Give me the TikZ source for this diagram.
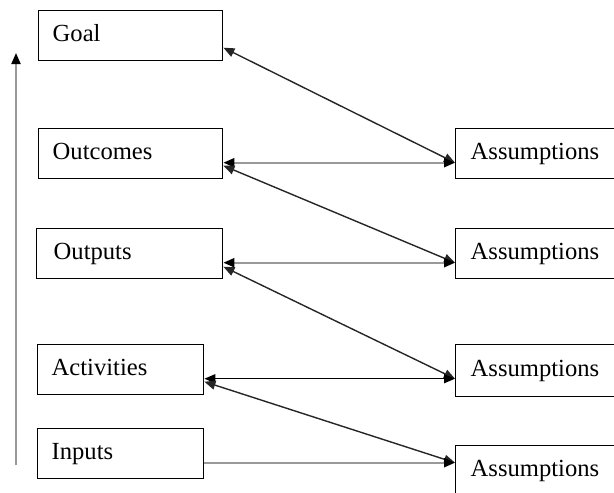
\documentclass[tikz,border=0pt]{standalone}
\usepackage{fontspec}
\setmainfont{Liberation Serif}
\usetikzlibrary{arrows.meta}
\begin{document}
\begin{tikzpicture}[x=1pt,y=-1pt,
  box/.style={draw=black,line width=1.4pt,anchor=north west,minimum height=50pt,
    inner xsep=14pt,inner ysep=0pt,text height=17pt,text depth=5pt,align=left,
    font=\fontsize{24.6}{26}\selectfont},
  dk/.style={line width=1.4pt,draw=black!85,{Triangle[length=11pt,width=9pt]}-{Triangle[length=11pt,width=9pt]}},
  lt/.style={line width=2pt,draw=black!40,{Triangle[length=11pt,width=9pt,fill=black,color=black]}-{Triangle[length=11pt,width=9pt,fill=black,color=black]}},
  ltone/.style={line width=2pt,draw=black!40,-{Triangle[length=11pt,width=9pt,fill=black,color=black]}}]
\useasboundingbox (0,0) rectangle (614,493);
\clip (0,0) rectangle (614,493);
\node[box,text width=156pt] (goal) at (38,10) {Goal};
\node[box,text width=156pt] (outc) at (38,128) {Outcomes};
\node[box,text width=152pt,inner xsep=17pt] (outp) at (36,228) {Outputs};
\node[box,text width=138pt] (act) at (37,344) {Activities};
\node[box,text width=138pt] (inp) at (37,428) {Inputs};
\node[box,text width=160pt,inner xsep=15pt] (a1) at (455,128) {Assumptions};
\node[box,text width=160pt,inner xsep=15pt] (a2) at (455,228) {Assumptions};
\node[box,text width=160pt,inner xsep=15pt,minimum height=52pt] (a3) at (455,344) {Assumptions};
\node[box,text width=160pt,inner xsep=15pt] (a4) at (455,445) {Assumptions};
\coordinate (vb) at (16,465);
\coordinate (vt) at (16,53);
\draw[ltone] (vb) -- (vt);
\draw[dk] ([yshift=-12pt]goal.east) -- ([yshift=-9pt]a1.west);
\draw[lt] ([yshift=-9pt]outc.east) -- ([yshift=-9pt]a1.west);
\draw[dk] ([yshift=-12pt]outc.east) -- ([yshift=-9pt]a2.west);
\draw[lt] ([yshift=-9pt]outp.east) -- ([yshift=-9pt]a2.west);
\draw[dk] ([yshift=-13pt]outp.east) -- ([yshift=-8pt]a3.west);
\draw[dk,draw=black] ([yshift=-9pt]act.east) -- ([yshift=-8pt]a3.west);
\draw[dk] ([yshift=-12pt]act.east) -- ([yshift=8pt]a4.west);
\draw[ltone] ([yshift=-9pt]inp.east) -- ([yshift=8pt]a4.west);
\end{tikzpicture}
\end{document}
